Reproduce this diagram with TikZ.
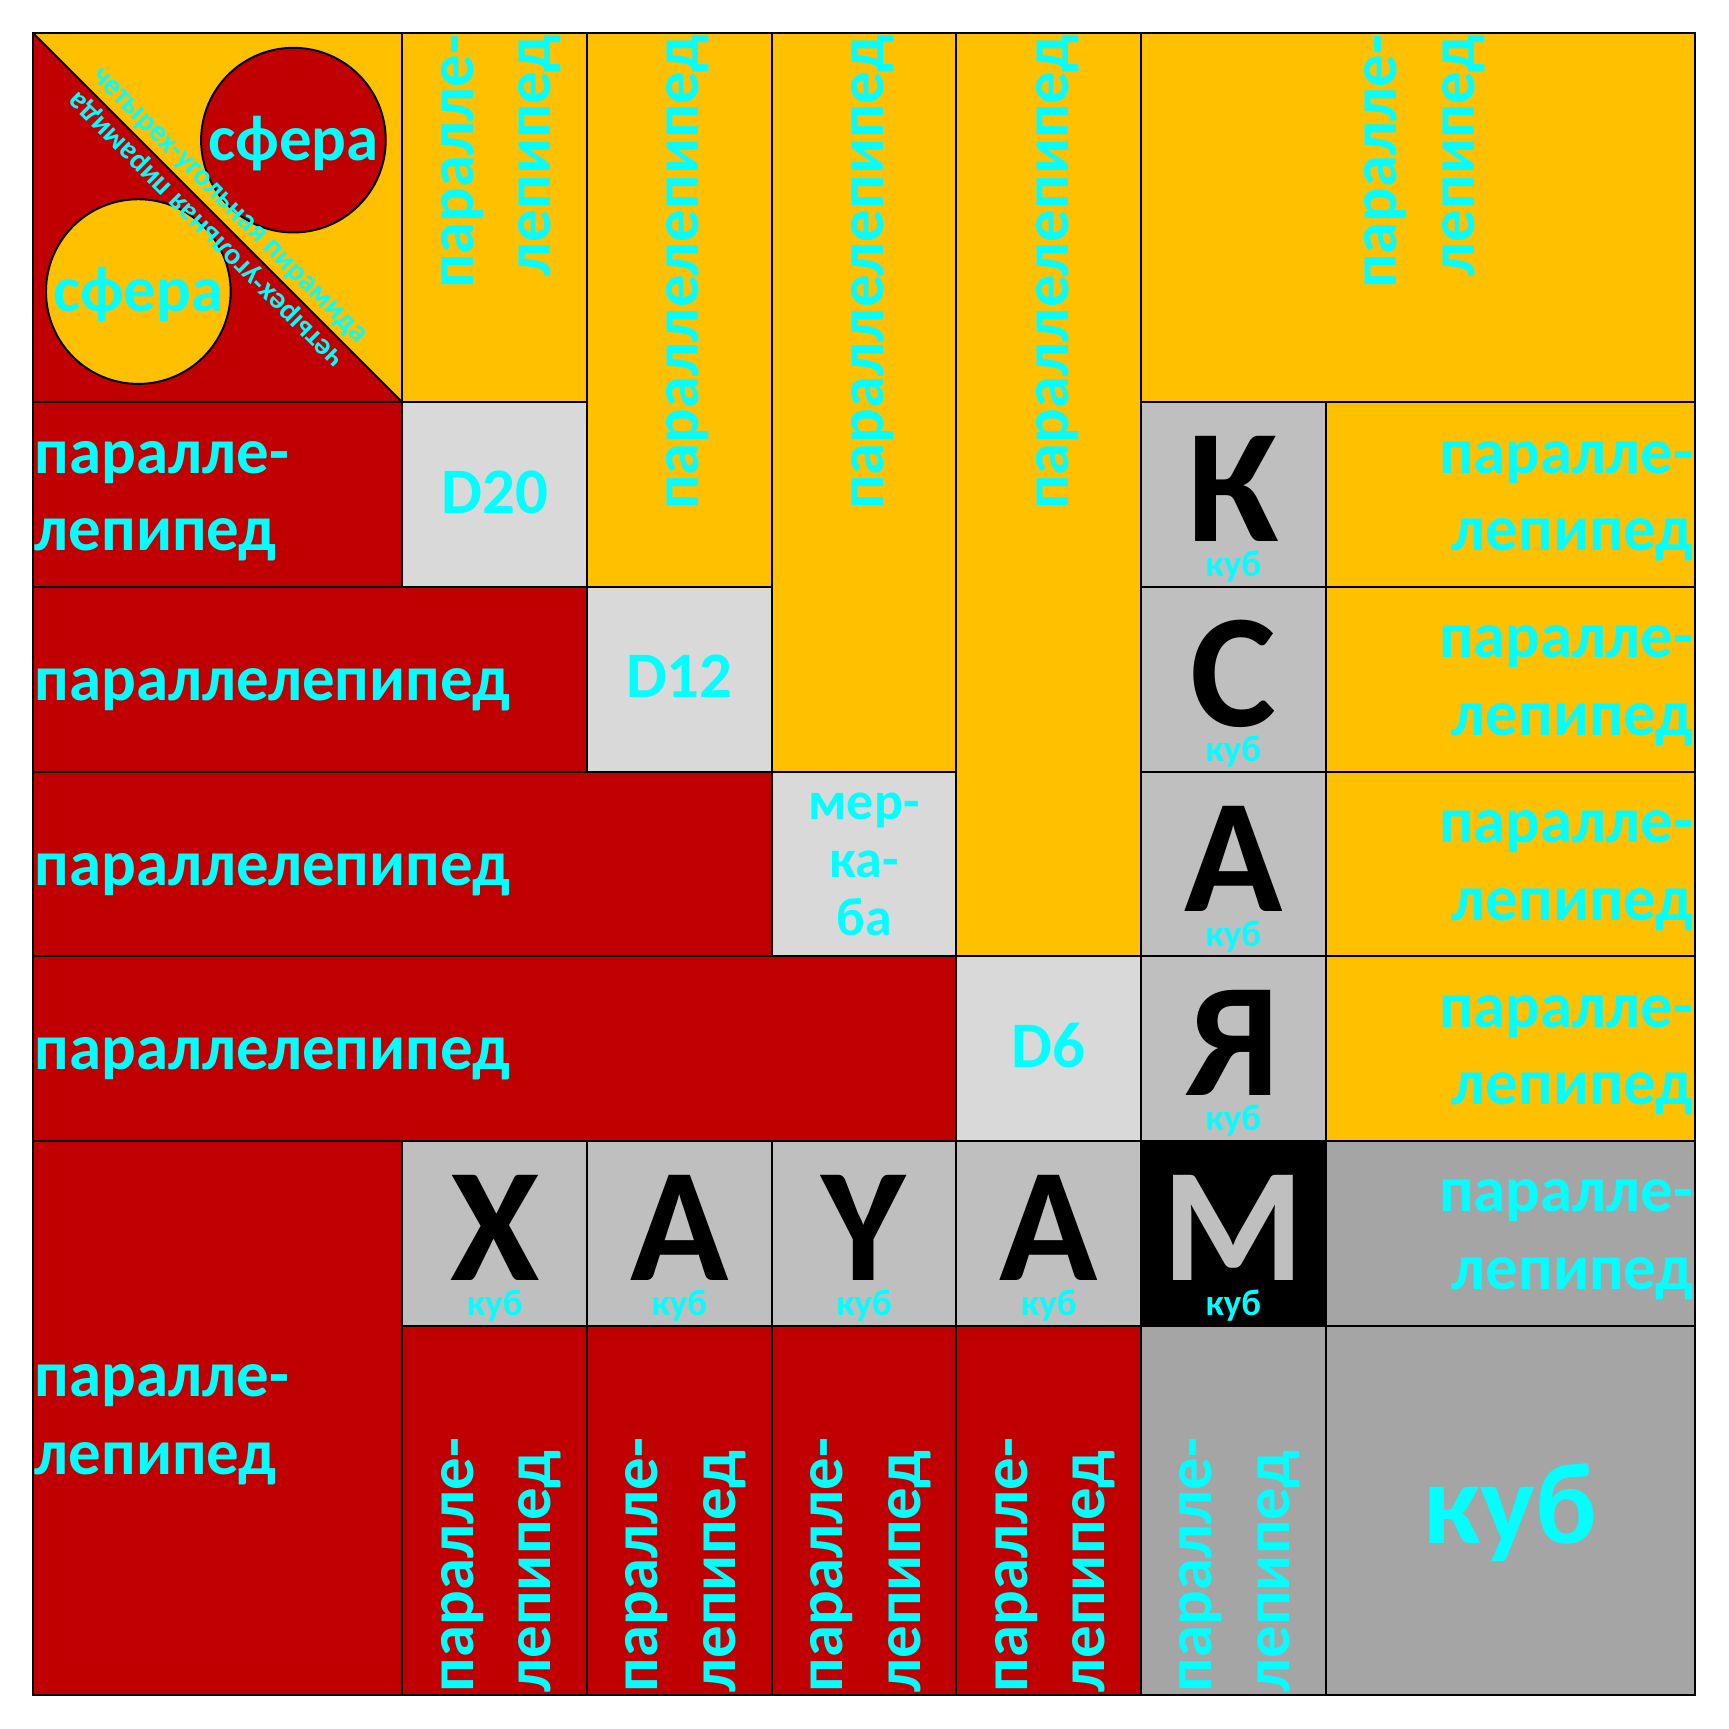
\documentclass[tikz,border=0pt]{standalone}
\usepackage{fontspec}
\setmainfont{Carlito}
\definecolor{kred}{HTML}{C00000}
\definecolor{korange}{HTML}{FFC000}
\definecolor{kcyan}{HTML}{00FFFF}
\definecolor{klight}{HTML}{D9D9D9}
\definecolor{kgrey}{HTML}{BFBFBF}
\definecolor{kdark}{HTML}{A5A5A5}
\begin{document}
\begin{tikzpicture}[x=2cm,y=2cm,
    box/.style={draw=black,line width=0.6pt},
    word/.style={text=kcyan,font=\bfseries\fontsize{20}{24}\selectfont,inner sep=0pt},
    twoline/.style={word,yshift=-2pt},
    diag/.style={word,font=\bfseries\fontsize{9.3}{11}\selectfont,anchor=base},
    letter/.style={font=\bfseries\fontsize{50}{60}\selectfont,inner sep=0pt,anchor=base},
    kub/.style={text=kcyan,font=\bfseries\fontsize{11.4}{13}\selectfont,inner sep=0pt,anchor=base}]
    \useasboundingbox (-0.179,-0.184) rectangle (9.184,9.179);

    % corner square
    \fill[kred] (0,9) -- (0,7) -- (2,7) -- cycle;
    \fill[korange] (0,9) -- (2,9) -- (2,7) -- cycle;
    \draw[box] (0,7) rectangle (2,9);
    \draw[box] (0,9) -- (2,7);
    \draw[box,fill=kred] (1.41,8.42) circle (0.5);
    \draw[box,fill=korange] (0.57,7.60) circle (0.5);

    \foreach \c in {2,...,5} {
        \draw[box,fill=korange] (\c,9) rectangle ++(1,-\c);}
    \draw[box,fill=korange] (6,9) rectangle (9,7);
    \foreach \r in {2,...,5} {
        \draw[box,fill=korange] (7,9-\r) rectangle ++(2,-1);
        \draw[box,fill=kred] (0,9-\r) rectangle (\r,8-\r);
        \draw[box,fill=klight] (\r,9-\r) rectangle ++(1,-1);
        \draw[box,fill=kgrey] (6,9-\r) rectangle ++(1,-1);
        \draw[box,fill=kgrey] (\r,3) rectangle ++(1,-1);
        \draw[box,fill=kred] (\r,2) rectangle ++(1,-2);}
    \draw[box,fill=kred] (0,3) rectangle (2,0);
    \draw[box,fill=black] (6,3) rectangle (7,2);
    \draw[box,fill=kdark] (7,3) rectangle (9,2);
    \draw[box,fill=kdark] (6,2) rectangle (7,0);
    \draw[box,fill=kdark] (7,2) rectangle (9,0);

    \node[word,anchor=base] (sph1) at (1.41,8.31) {сфера};
    \node[word,anchor=base] (sph2) at (0.57,7.49) {сфера};
    \node[diag,rotate=-45,yshift=3pt] (pyr1) at (1,8) {четырех-угольная пирамида};
    \node[diag,rotate=135,yshift=3pt] (pyr2) at (1,8) {четырех-угольная пирамида};

    \node[rotate=90,twoline,anchor=east,align=right] (topA) at (2.5,8.995) {паралле-\\лепипед};
    \foreach \c in {3,4,5} {
        \node[rotate=90,word,anchor=base east] (top\c) at (\c+0.606,8.995) {параллелепипед};}
    \node[rotate=90,twoline,anchor=east,align=right] (topB) at (7.5,8.995) {паралле-\\лепипед};

    \node[twoline,anchor=west,align=left] (left2) at (0.005,6.5) {паралле-\\лепипед};
    \foreach \r in {3,4,5} {
        \node[word,anchor=base west] (left\r) at (0.005,8.386-\r) {параллелепипед};}
    \node[twoline,anchor=west,align=left] (left6) at (0.005,1.5) {паралле-\\лепипед};
    \foreach \r in {2,...,6} {
        \node[twoline,anchor=east,align=right] (right\r) at (8.995,8.5-\r) {паралле-\\лепипед};}
    \foreach \c in {2,...,6} {
        \node[rotate=90,twoline,anchor=west,align=left] (bot\c) at (\c+0.5,0.01) {паралле-\\лепипед};}

    \node[word,anchor=base] (d20) at (2.5,6.4) {D20};
    \node[word,anchor=base] (d12) at (3.5,5.4) {D12};
    \node[word,anchor=base] (d6) at (5.5,3.4) {D6};
    \node[word,font=\bfseries\fontsize{16.6}{17.9}\selectfont,align=center] (merkaba) at (4.5,4.5) {мер-\\ка-\\ба};

    \foreach \l/\c/\r in {К/6/2,С/6/3,А/6/4,Я/6/5,Х/2/6,А/3/6,Y/4/6,А/5/6} {
        \node[letter] (let\c\r) at (\c+0.5,8.244-\r) {\l};
        \node[kub] (kub\c\r) at (\c+0.5,8.055-\r) {куб};}
    \node[letter,text=kgrey] (letM) at (6.5,2.244) {М};
    \node[kub] (kubM) at (6.5,2.055) {куб};
    \node[word,font=\bfseries\fontsize{35.7}{40}\selectfont,anchor=base] (bigkub) at (8,0.821) {куб};
\end{tikzpicture}
\end{document}
